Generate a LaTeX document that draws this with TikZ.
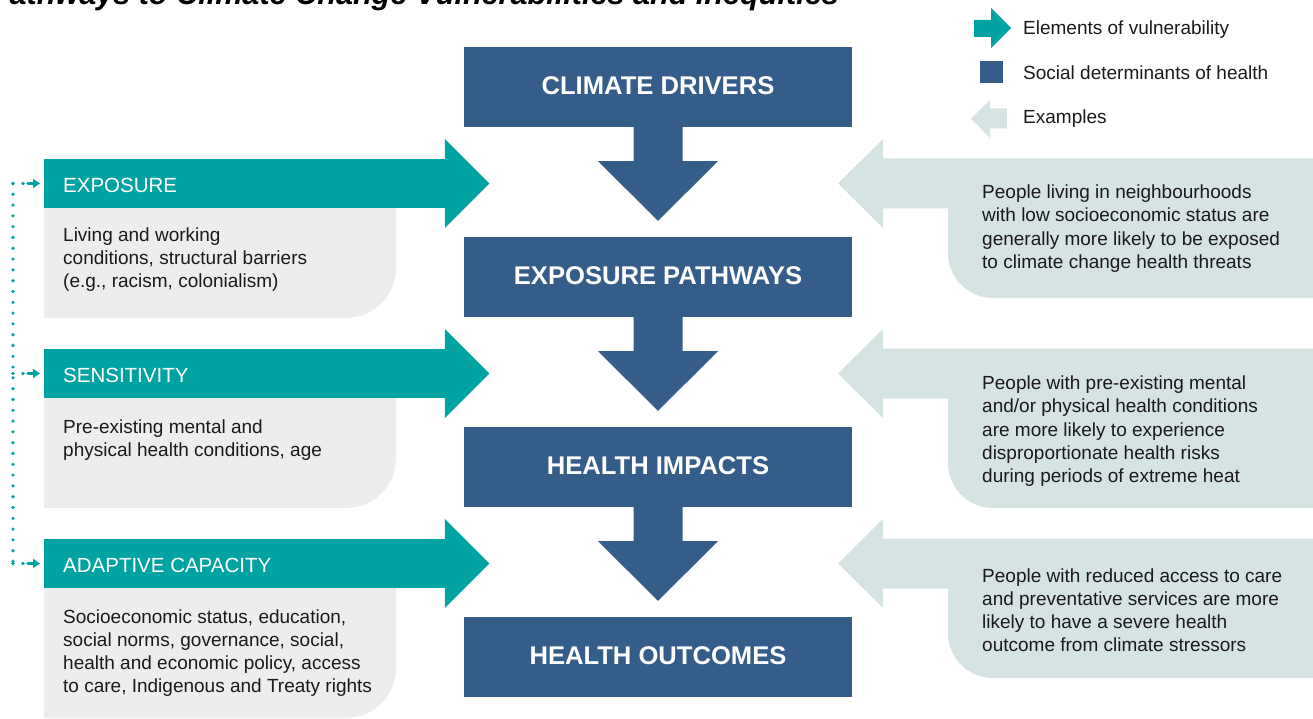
\documentclass[tikz,border=0pt]{standalone}
\usepackage{fontspec}
\setmainfont{Liberation Sans}
\usetikzlibrary{calc,arrows.meta}
\definecolor{tealc}{RGB}{0,163,161}
\definecolor{bluec}{RGB}{52,94,137}
\definecolor{exc}{RGB}{213,227,226}
\definecolor{greyc}{RGB}{237,237,237}
\definecolor{txtc}{RGB}{26,26,26}
\begin{document}
\begin{tikzpicture}[x=1pt,y=-1pt,
  sdh/.style={fill=bluec, text=white, minimum width=388pt, minimum height=80pt, inner sep=0pt,
    font=\fontsize{25.6pt}{30pt}\selectfont\bfseries, text height=18.6pt, text depth=3.6pt},
  tealbar/.style={fill=tealc, anchor=west, minimum width=401pt, minimum height=49pt, inner sep=0pt},
  hdr/.style={anchor=base west, inner sep=0pt, text=white, font=\fontsize{20.5pt}{24pt}\selectfont},
  body/.style={anchor=north west, inner sep=0pt, text=txtc, align=left, font=\fontsize{19pt}{23.2pt}\selectfont},
  legtext/.style={anchor=base west, inner sep=0pt, text=txtc, font=\fontsize{19pt}{23pt}\selectfont},
  dotline/.style={draw=tealc, line width=3.6pt, line cap=round, dash pattern=on 0pt off 10.8pt},
  dotarrow/.style={draw=tealc, line width=3.6pt, line cap=round,
    dash pattern=on 0pt off 10pt on 0pt off 5pt on 5pt off 100pt,
    -{Triangle[length=7pt,width=9pt]}, shorten >=4pt},
  titlef/.style={anchor=base east, inner sep=0pt, text=black, font=\fontsize{30.6pt}{36pt}\selectfont\bfseries\itshape}
]
\useasboundingbox (0,0) rectangle (1313,719);
\clip (0,0) rectangle (1313,719);

% title (cut at top of picture, as in the reference)
\node[titlef] (title) at (839,5) {Pathways to Climate Change Vulnerabilities and Inequities};

% ---------- central column ----------
\node[sdh] (cd) at (658,87) {CLIMATE DRIVERS};
\node[sdh] (ep) at (658,277) {EXPOSURE PATHWAYS};
\node[sdh] (hi) at (658,467) {HEALTH IMPACTS};
\node[sdh] (ho) at (658,657) {HEALTH OUTCOMES};
\foreach \a/\b in {cd/ep,ep/hi,hi/ho}{
  \fill[bluec] ($(\a.south)+(-24.5,-0.5)$) -- ($(\a.south)+(-24.5,34)$) -- ($(\a.south)+(-60,34)$)
    -- ($(\b.north)+(0,-16)$) -- ($(\a.south)+(60,34)$) -- ($(\a.south)+(24.5,34)$)
    -- ($(\a.south)+(24.5,-0.5)$) -- cycle;
}

% ---------- left column: elements of vulnerability ----------
% exposure
\fill[greyc] (44,207) -- (396,207) -- (396,268) .. controls (396,295.6) and (373.6,318) .. (346,318) -- (44,318) -- cycle;
\node[tealbar] (expo) at (44,183.5) {};
\fill[tealc] ($(expo.east)+(-0.5,-44.5)$) -- ($(expo.east)+(44,0)$) -- ($(expo.east)+(-0.5,44.5)$) -- cycle;
\node[hdr] (expol) at (63,192.5) {EXPOSURE};
\node[body] (expot) at (63,227.4) {Living and working\\conditions, structural barriers\\(e.g., racism, colonialism)};

% sensitivity
\fill[greyc] (44,397) -- (396,397) -- (396,458) .. controls (396,485.6) and (373.6,508) .. (346,508) -- (44,508) -- cycle;
\node[tealbar] (sens) at (44,373.5) {};
\fill[tealc] ($(sens.east)+(-0.5,-44.5)$) -- ($(sens.east)+(44,0)$) -- ($(sens.east)+(-0.5,44.5)$) -- cycle;
\node[hdr] (sensl) at (63,382.5) {SENSITIVITY};
\node[body] (senst) at (63,419.7) {Pre-existing mental and\\physical health conditions, age};

% adaptive capacity
\fill[greyc] (44,587) -- (396,587) -- (396,668) .. controls (396,695.6) and (373.6,718) .. (346,718) -- (44,718) -- cycle;
\node[tealbar] (adap) at (44,563.5) {};
\fill[tealc] ($(adap.east)+(-0.5,-44.5)$) -- ($(adap.east)+(44,0)$) -- ($(adap.east)+(-0.5,44.5)$) -- cycle;
\node[hdr] (adapl) at (63,572.5) {ADAPTIVE CAPACITY};
\node[body] (adapt) at (63,609.3) {Socioeconomic status, education,\\social norms, governance, social,\\health and economic policy, access\\to care, Indigenous and Treaty rights};

% dotted feedback connector
\coordinate (d1) at (13,183.5);
\coordinate (d2) at (13,373.5);
\coordinate (d3) at (13,563.5);
\draw[dotline] (d1) -- (d3);
\draw[dotarrow] (d1) -- (expo.west);
\draw[dotarrow] (d2) -- (sens.west);
\draw[dotarrow] (d3) -- (adap.west);

% ---------- right column: examples ----------
\fill[exc] (838,183.5) -- (883,139) -- (883,158.5) -- (1313,158.5) -- (1313,298) -- (993,298)
  .. controls (968.1,298) and (948,277.9) .. (948,253) -- (948,208.5) -- (883,208.5) -- (883,228) -- cycle;
\node[body] (ex1) at (982,184.7) {People living in neighbourhoods\\with low socioeconomic status are\\generally more likely to be exposed\\to climate change health threats};

\fill[exc] (838,373.5) -- (883,329) -- (883,348.5) -- (1313,348.5) -- (1313,508) -- (993,508)
  .. controls (968.1,508) and (948,487.9) .. (948,463) -- (948,398.5) -- (883,398.5) -- (883,418) -- cycle;
\node[body] (ex2) at (982,375.7) {People with pre-existing mental\\and/or physical health conditions\\are more likely to experience\\disproportionate health risks\\during periods of extreme heat};

\fill[exc] (838,563.5) -- (883,519) -- (883,538.5) -- (1313,538.5) -- (1313,678) -- (993,678)
  .. controls (968.1,678) and (948,657.9) .. (948,633) -- (948,588.5) -- (883,588.5) -- (883,608) -- cycle;
\node[body] (ex3) at (982,568.1) {People with reduced access to care\\and preventative services are more\\likely to have a severe health\\outcome from climate stressors};

% ---------- legend ----------
\fill[tealc] (974,20) -- (991,20) -- (991,8) -- (1011,28) -- (991,48) -- (991,37) -- (974,37) -- cycle;
\node[legtext] (lg1) at (1023,35) {Elements of vulnerability};
\node[fill=bluec, minimum size=22.5pt, inner sep=0pt] (lgsq) at (991.5,72) {};
\node[legtext] (lg2) at (1023,80) {Social determinants of health};
\fill[exc] (971,118.5) -- (990,100) -- (990,108.5) -- (1007,108.5) -- (1007,128.5) -- (990,128.5) -- (990,138) -- cycle;
\node[legtext] (lg3) at (1023,123.3) {Examples};
\end{tikzpicture}
\end{document}
